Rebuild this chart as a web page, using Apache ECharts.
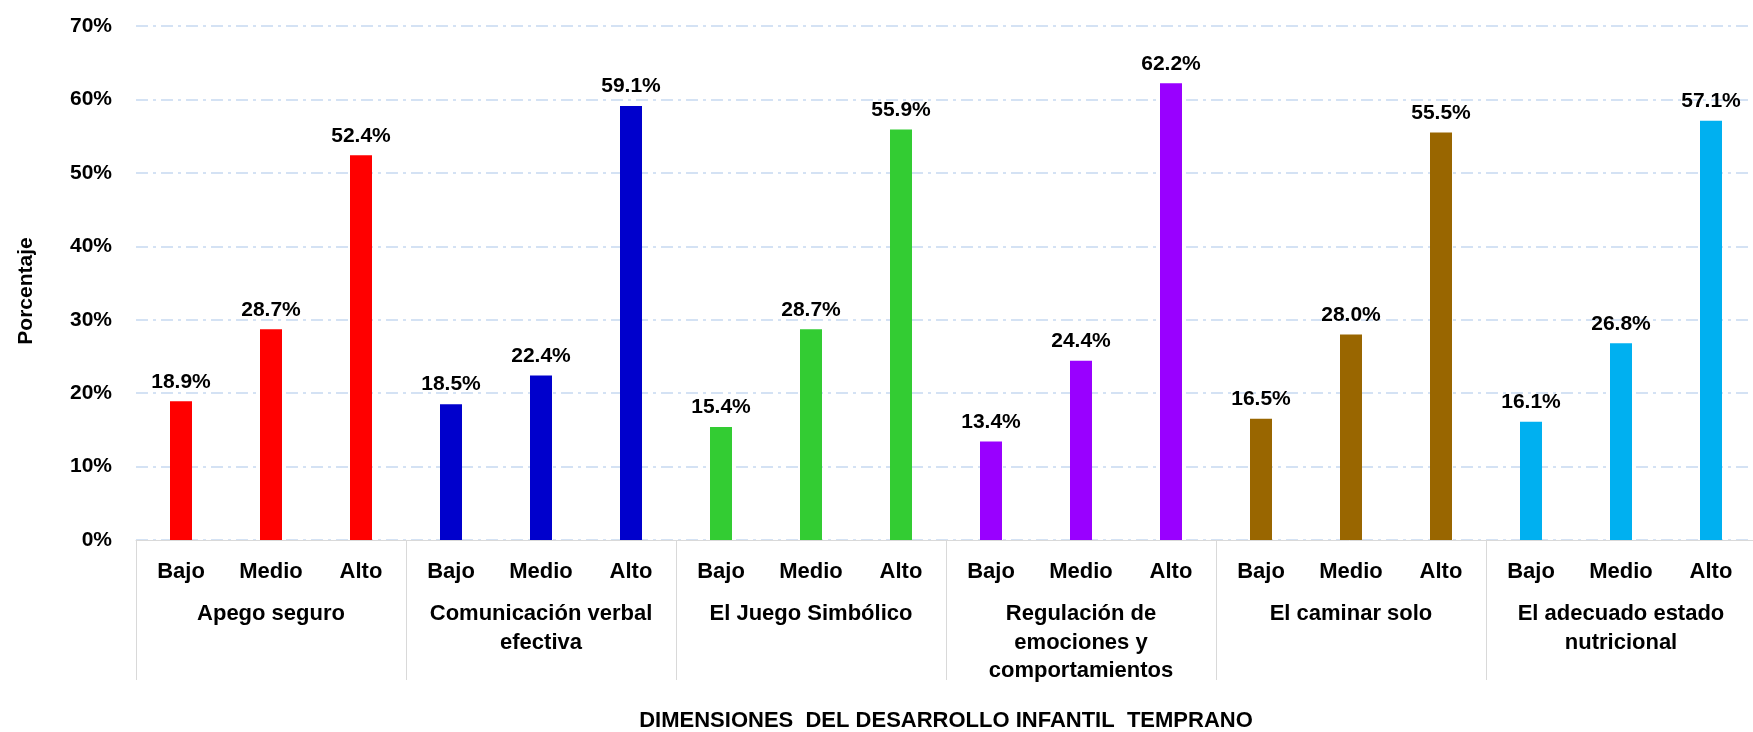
<!DOCTYPE html>
<html>
<head>
<meta charset="utf-8">
<script src="https://cdn.jsdelivr.net/npm/echarts@6/dist/echarts.min.js"></script>
<style>
html,body{margin:0;padding:0;background:#fff;}
#main{width:1753px;height:732px;}
</style>
</head>
<body>
<div id="main"></div>
<script>
// niveles y dimensiones
var niveles = ['Bajo','Medio','Alto'];
var dimensiones = ['Apego seguro','Comunicación verbal\nefectiva','El Juego Simbólico','Regulación de\nemociones y\ncomportamientos','El caminar solo','El adecuado estado\nnutricional'];
var colores = ['#FF0000','#0000CC','#33CC33','#9900FF','#996600','#00B0F0'];
// porcentajes por dimension (Bajo, Medio, Alto)
var apego = [18.9, 28.7, 52.4];
var comunicacion = [18.5, 22.4, 59.1];
var juego = [15.4, 28.7, 55.9];
var regulacion = [13.4, 24.4, 62.2];
var caminar = [16.5, 28.0, 55.5];
var nutricional = [16.1, 26.8, 57.1];
var yTicks = [0,10,20,30,40,50,60,70];

var grupos = [apego, comunicacion, juego, regulacion, caminar, nutricional];
var cats = [];
var datos = [];
for (var g = 0; g < grupos.length; g++) {
	for (var i = 0; i < niveles.length; i++) {
		cats.push(niveles[i]);
		datos.push({value: grupos[g][i], itemStyle: {color: colores[g]}});
	}
}

var fuente = 'Liberation Sans, Arial, sans-serif';
var myChart = echarts.init(document.getElementById('main'));
var option = {
	animation: false,
	grid: {left: 136, top: 26, width: 1620, height: 514, outerBoundsMode: 'none', containLabel: false},
	xAxis: [
		{
			type: 'category',
			data: cats,
			axisLine: {lineStyle: {color: '#D9D9D9', width: 1}},
			axisTick: {show: false},
			axisLabel: {interval: 0, margin: 18, color: '#000', fontSize: 22, fontWeight: 'bold', fontFamily: fuente, lineHeight: 28}
		},
		{
			type: 'category',
			data: dimensiones,
			position: 'bottom',
			axisLine: {show: false},
			axisTick: {show: true, length: 140, interval: 0, lineStyle: {color: '#D9D9D9'}},
			axisLabel: {interval: 0, margin: 60, color: '#000', fontSize: 22, fontWeight: 'bold', fontFamily: fuente, lineHeight: 28.5},
			name: 'DIMENSIONES  DEL DESARROLLO INFANTIL  TEMPRANO',
			nameLocation: 'middle',
			nameGap: 170,
			nameTextStyle: {color: '#000', fontSize: 22, fontWeight: 'bold', fontFamily: fuente}
		}
	],
	yAxis: {
		type: 'value',
		min: yTicks[0],
		max: yTicks[yTicks.length - 1],
		interval: 10,
		name: 'Porcentaje',
		nameLocation: 'middle',
		nameGap: 99,
		nameRotate: 90,
		nameTextStyle: {color: '#000', fontSize: 21, fontWeight: 'bold', fontFamily: fuente, padding: [0, 16, 0, 0]},
		axisLine: {show: false},
		axisTick: {show: false},
		axisLabel: {formatter: '{value}%', margin: 24, color: '#000', fontSize: 21, fontWeight: 'bold', fontFamily: fuente},
		splitLine: {lineStyle: {color: '#C6D9F1', width: 1.5, type: [12, 5, 3, 5]}}
	},
	series: [{
		type: 'bar',
		xAxisIndex: 0,
		data: datos,
		barWidth: 22,
		label: {
			show: true,
			position: 'top',
			distance: 9,
			color: '#000',
			fontSize: 21,
			fontWeight: 'bold',
			fontFamily: fuente,
			formatter: function (p) { return p.value.toFixed(1) + '%'; }
		}
	}]
};
myChart.setOption(option);
</script>
</body>
</html>
